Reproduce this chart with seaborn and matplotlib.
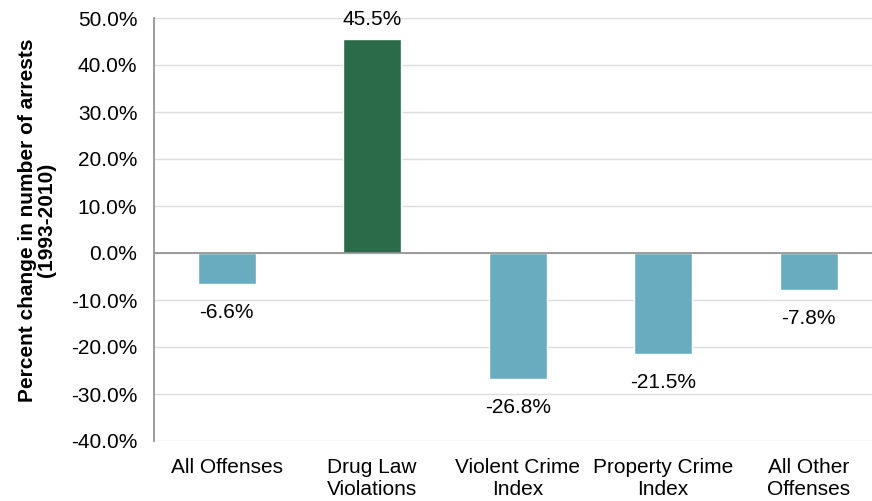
import pandas as pd
import matplotlib.pyplot as plt
import matplotlib.ticker as mticker
import seaborn as sns

categories = ["All Offenses", "Drug Law\nViolations", "Violent Crime\nIndex",
              "Property Crime\nIndex", "All Other\nOffenses"]
pct_change = [-6.6, 45.5, -26.8, -21.5, -7.8]
bar_colors = ["#6AACBF", "#2B6B4A", "#6AACBF", "#6AACBF", "#6AACBF"]

sns.set_theme(style="white")
plt.rcParams['font.family'] = ['Liberation Sans', 'DejaVu Sans']
plt.rcParams['text.color'] = 'black'
plt.rcParams['axes.labelcolor'] = 'black'

df = pd.DataFrame({"cat": categories, "val": pct_change})

fig = plt.figure(figsize=(8.72, 5.01), dpi=100)
ax = fig.add_axes([154 / 872, 60 / 501, 1 - 154 / 872, (441 - 18) / 501])

sns.barplot(data=df, x="cat", y="val", hue="cat", palette=bar_colors,
            width=0.4, legend=False, ax=ax, saturation=1)

ax.set_ylim(-40, 50)
ax.set_xlim(-0.5, 4.435)
ax.yaxis.set_major_locator(mticker.MultipleLocator(10))
ax.yaxis.set_major_formatter(mticker.FuncFormatter(lambda v, p: f"{v:.1f}%"))
ax.grid(axis="y", color="#DDDDDD", linewidth=1)
ax.set_axisbelow(True)
ax.axhline(0, color="#8C8C8C", linewidth=1.2, zorder=3)

for s in ["top", "right", "bottom"]:
    ax.spines[s].set_visible(False)
ax.spines["left"].set_color("#8C8C8C")
ax.spines["left"].set_linewidth(1.2)

fs = 15
ax.tick_params(axis="y", labelsize=fs, labelcolor="black", length=0, pad=12)
ax.tick_params(axis="x", labelsize=fs, labelcolor="black", length=0, pad=12)
ax.set_xlabel("")
ax.set_ylabel("Percent change in number of arrests\n(1993-2010)",
              fontsize=fs, fontweight="bold", linespacing=0.95)
ax.yaxis.set_label_coords(-0.137, 0.522)

for i, v in enumerate(pct_change):
    if v >= 0:
        ax.annotate(f"{v:.1f}%", (i, v), xytext=(0, 7), textcoords="offset points",
                    ha="center", va="bottom", fontsize=fs)
    else:
        ax.annotate(f"{v:.1f}%", (i, v), xytext=(0, -14), textcoords="offset points",
                    ha="center", va="top", fontsize=fs)

fig.savefig("out.png", dpi=100)
